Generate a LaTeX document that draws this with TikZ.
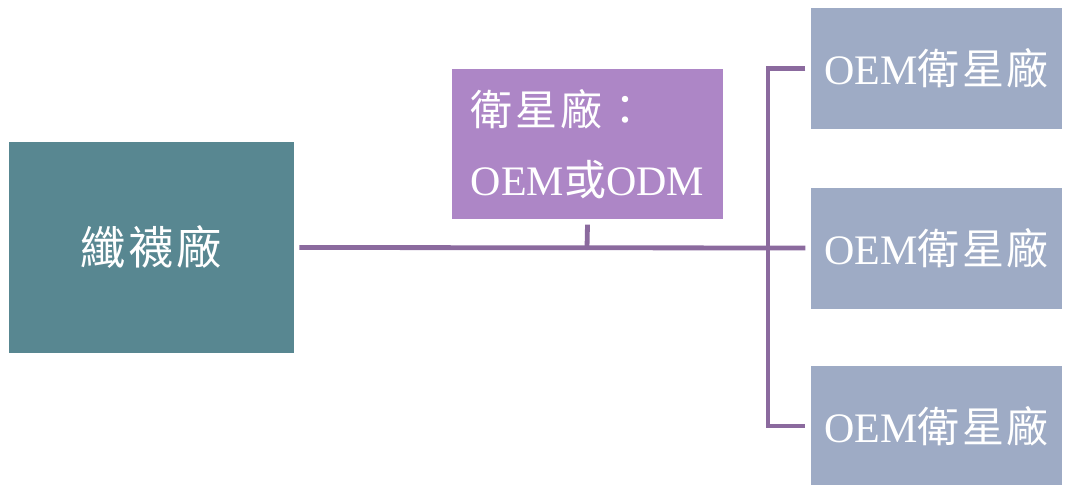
\documentclass[tikz,border=0pt]{standalone}
\usepackage{fontspec}
\setmainfont{Liberation Serif}
\newfontfamily\cjk{Noto Sans CJK TC}
\definecolor{tealbox}{HTML}{588791}
\definecolor{purplebox}{HTML}{AD86C6}
\definecolor{bluebox}{HTML}{9EABC5}
\definecolor{linecol}{HTML}{8B6A9E}
\begin{document}
\begin{tikzpicture}[x=0.75pt,y=-0.75pt,
  box/.style={draw=none,text=white,inner sep=0pt,anchor=center},
  conn/.style={draw=linecol,line width=3.6pt,line cap=butt,line join=miter}]
\useasboundingbox (0,0) rectangle (1065,485);
\node[box,fill=tealbox,minimum width=213.75pt,minimum height=158.25pt,font=\fontsize{34}{40}\selectfont]
  (L) at (151.5,247.5) {\cjk 纖\hspace{2pt}襪\hspace{2pt}廠};
\node[box,fill=purplebox,minimum width=203.25pt,minimum height=112.5pt,align=left,font=\fontsize{31.5}{52}\selectfont]
  (M) at (587.5,144) {{\cjk 衛\hspace{2pt}星\hspace{2pt}廠\hspace{2pt}：}\\OEM{\cjk 或}ODM};
\foreach \n/\y in {R1/68.5,R2/248,R3/426}{
  \node[box,fill=bluebox,minimum width=188.25pt,minimum height=90.75pt,font=\fontsize{31.5}{36}\selectfont]
    (\n) at (936.5,\y) {OEM{\cjk 衛\hspace{2pt}星\hspace{2pt}廠}};
}
\coordinate (t1) at (768,68.5);
\coordinate (t3) at (768,426);
\coordinate (m) at (587,248);
\draw[conn] ([xshift=3.75pt]L.east) -- ([xshift=-4pt]R2.west);
\draw[conn] ([xshift=-4pt]R1.west) -- (t1) -- (t3) -- ([xshift=-4pt]R3.west);
\draw[conn] ([yshift=-4pt]M.south) -- (m);
\end{tikzpicture}
\end{document}
